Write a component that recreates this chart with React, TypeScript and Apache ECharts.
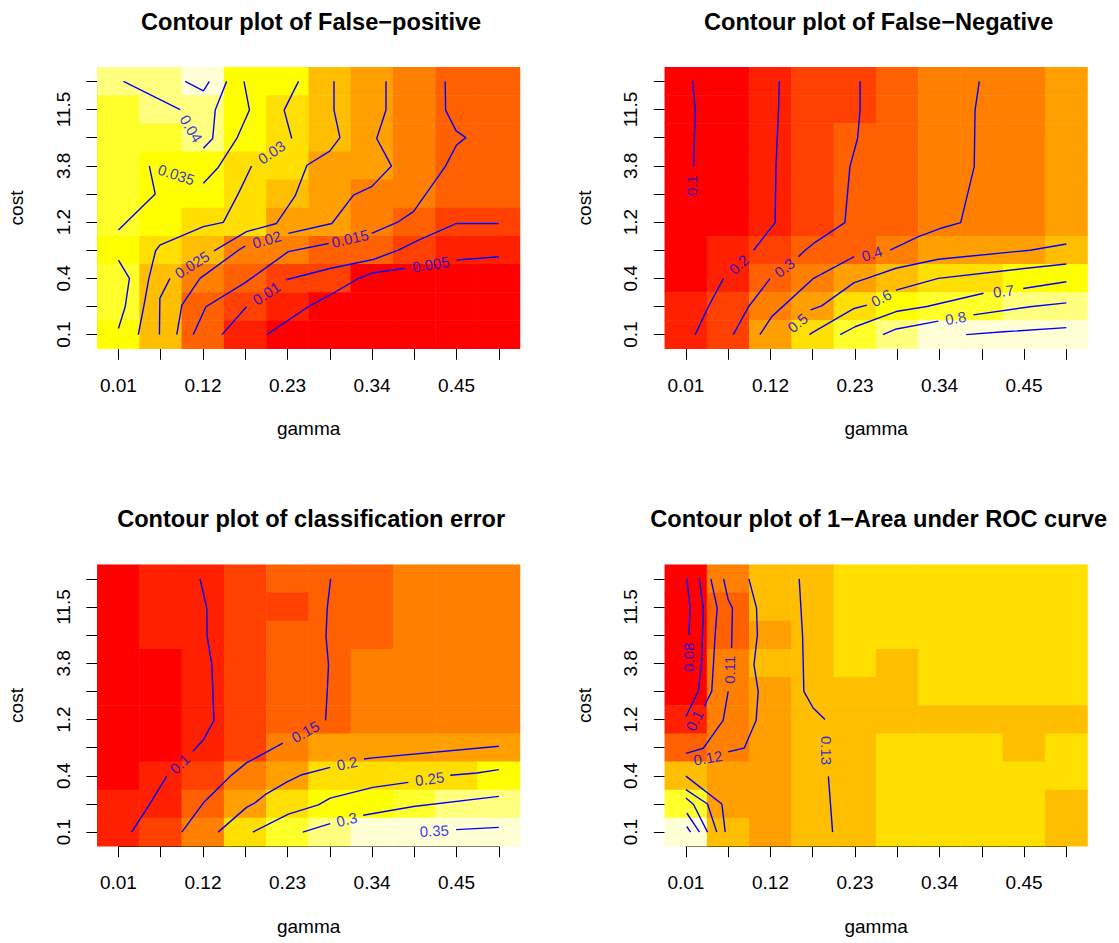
import React, { useEffect, useRef } from "react";
import * as echarts from "echarts";

// ---------- data ----------
const gammaLabels = ["0.01", "0.065", "0.12", "0.175", "0.23", "0.285", "0.34", "0.395", "0.45", "0.505"];
const costLabels = ["0.1", "0.2", "0.4", "0.7", "1.2", "2.1", "3.8", "6.6", "11.5", "20"];

// R heat.colors(12)
const heatColors = ["#FF0000", "#FF2000", "#FF4000", "#FF6000", "#FF8000", "#FF9F00", "#FFBF00", "#FFDF00", "#FFFF00", "#FFFF2A", "#FFFF80", "#FFFFD5"];

// rows listed from the highest cost (top) down to the lowest cost (bottom); columns follow gamma
const falsePositive = [
  [0.0397, 0.0425, 0.047, 0.0346, 0.0325, 0.0255, 0.0205, 0.019, 0.014, 0.014],
  [0.037, 0.0395, 0.0415, 0.035, 0.0295, 0.026, 0.021, 0.0185, 0.0145, 0.014],
  [0.037, 0.0375, 0.041, 0.0335, 0.0305, 0.0265, 0.0215, 0.018, 0.0155, 0.014],
  [0.0365, 0.034, 0.035, 0.031, 0.0285, 0.023, 0.021, 0.0175, 0.0145, 0.014],
  [0.0365, 0.034, 0.0335, 0.029, 0.0257, 0.0225, 0.019, 0.017, 0.0145, 0.014],
  [0.037, 0.033, 0.031, 0.028, 0.0225, 0.021, 0.0175, 0.0135, 0.0105, 0.0105],
  [0.033, 0.029, 0.0272, 0.0186, 0.018, 0.013, 0.013, 0.009, 0.007, 0.0065],
  [0.037, 0.0265, 0.0195, 0.0155, 0.01, 0.009, 0.003, 0.003, 0.003, 0.003],
  [0.0375, 0.025, 0.0155, 0.0102, 0.006, 0.0035, 0.0025, 0.002, 0.002, 0.002],
  [0.0335, 0.0245, 0.0145, 0.007, 0.003, 0.002, 0.0015, 0.0012, 0.001, 0.001],
];

const falseNegative = [
  [0.085, 0.13, 0.18, 0.24, 0.27, 0.32, 0.38, 0.41, 0.41, 0.45],
  [0.07, 0.13, 0.18, 0.24, 0.27, 0.32, 0.38, 0.41, 0.41, 0.45],
  [0.085, 0.13, 0.18, 0.24, 0.29, 0.33, 0.38, 0.41, 0.41, 0.45],
  [0.085, 0.13, 0.18, 0.24, 0.29, 0.33, 0.38, 0.41, 0.41, 0.45],
  [0.09, 0.13, 0.185, 0.245, 0.29, 0.33, 0.385, 0.41, 0.41, 0.45],
  [0.09, 0.135, 0.19, 0.25, 0.3, 0.33, 0.39, 0.42, 0.42, 0.46],
  [0.1, 0.17, 0.26, 0.33, 0.35, 0.42, 0.46, 0.47, 0.48, 0.53],
  [0.12, 0.21, 0.33, 0.41, 0.47, 0.565, 0.64, 0.64, 0.67, 0.68],
  [0.15, 0.25, 0.37, 0.47, 0.6, 0.67, 0.74, 0.76, 0.79, 0.81],
  [0.17, 0.28, 0.45, 0.64, 0.76, 0.83, 0.88, 0.91, 0.92, 0.93],
];

const classError = [
  [0.065, 0.09, 0.102, 0.125, 0.145, 0.15, 0.155, 0.175, 0.175, 0.175],
  [0.065, 0.09, 0.095, 0.12, 0.13, 0.15, 0.155, 0.175, 0.175, 0.175],
  [0.065, 0.09, 0.095, 0.12, 0.145, 0.152, 0.155, 0.175, 0.175, 0.175],
  [0.055, 0.075, 0.095, 0.12, 0.145, 0.152, 0.17, 0.175, 0.175, 0.175],
  [0.06, 0.075, 0.095, 0.12, 0.145, 0.152, 0.17, 0.175, 0.175, 0.175],
  [0.065, 0.075, 0.095, 0.12, 0.145, 0.152, 0.17, 0.175, 0.175, 0.175],
  [0.07, 0.08, 0.105, 0.13, 0.17, 0.19, 0.19, 0.19, 0.195, 0.2],
  [0.075, 0.095, 0.13, 0.175, 0.195, 0.243, 0.245, 0.247, 0.26, 0.27],
  [0.085, 0.105, 0.15, 0.198, 0.242, 0.27, 0.28, 0.295, 0.325, 0.33],
  [0.095, 0.12, 0.18, 0.245, 0.295, 0.33, 0.348, 0.355, 0.365, 0.373],
];

const oneMinusAuc = [
  [0.076, 0.115, 0.128, 0.133, 0.14, 0.14, 0.14, 0.141, 0.141, 0.141],
  [0.075, 0.105, 0.128, 0.133, 0.14, 0.14, 0.141, 0.141, 0.141, 0.141],
  [0.067, 0.105, 0.125, 0.133, 0.14, 0.14, 0.141, 0.141, 0.141, 0.141],
  [0.072, 0.112, 0.128, 0.133, 0.139, 0.135, 0.141, 0.141, 0.141, 0.141],
  [0.074, 0.112, 0.125, 0.132, 0.135, 0.134, 0.14, 0.14, 0.14, 0.14],
  [0.086, 0.113, 0.125, 0.128, 0.134, 0.134, 0.135, 0.135, 0.134, 0.135],
  [0.105, 0.111, 0.125, 0.128, 0.135, 0.14, 0.14, 0.14, 0.135, 0.14],
  [0.136, 0.124, 0.125, 0.128, 0.135, 0.14, 0.14, 0.14, 0.14, 0.14],
  [0.163, 0.124, 0.125, 0.128, 0.135, 0.14, 0.14, 0.14, 0.14, 0.135],
  [0.187, 0.134, 0.126, 0.128, 0.135, 0.14, 0.14, 0.14, 0.14, 0.135],
];

// contour polylines in grid-index units [gamma index, cost index]
type Seg = { level: string; pts: number[][] };
type Lab = { text: string; x: number; y: number; angle: number };

const fpContours: Seg[] = [
  { level: "0.045", pts: [[1.58, 9], [2.01, 8.66], [2.15, 9]] },
  { level: "0.04", pts: [[0.12, 9], [1.46, 8.0]] },
  { level: "0.04", pts: [[2.01, 6.62], [2.23, 6.97], [2.29, 7.98], [2.56, 9]] },
  { level: "0.035", pts: [[0, 3.72], [0.87, 5.0], [0.73, 6.0]] },
  { level: "0.035", pts: [[2.01, 5.38], [2.36, 5.94], [2.8, 6.97], [3.1, 7.98], [2.97, 9]] },
  { level: "0.035", pts: [[0, 2.65], [0.26, 2.0], [0.16, 0.99], [0, 0.22]] },
  { level: "0.03", pts: [[0.47, 0], [0.6, 1], [0.72, 2], [0.88, 2.98], [0.98, 3.18], [2.01, 3.84], [2.48, 3.99], [2.84, 5.02], [3.15, 5.99]] },
  { level: "0.03", pts: [[4.1, 6.97], [3.92, 7.98], [4.26, 9]] },
  { level: "0.025", pts: [[0.97, 0], [0.98, 1.29], [1.22, 2.0]] },
  { level: "0.025", pts: [[2.26, 2.98], [3.03, 3.66], [3.74, 3.95], [4.18, 4.93], [4.46, 6.02], [5.0, 6.52], [5.24, 7.0], [5.1, 7.98], [5.1, 9]] },
  { level: "0.02", pts: [[1.38, 0], [1.5, 1.05], [1.93, 2.0], [2.84, 3.0], [3.0, 3.15]] },
  { level: "0.02", pts: [[4.02, 3.6], [5.05, 3.95], [5.56, 4.96], [5.99, 5.26], [6.46, 5.99], [6.11, 6.97], [6.33, 7.98], [6.33, 9]] },
  { level: "0.015", pts: [[1.77, 0], [2.07, 0.99], [3.0, 1.85], [4.02, 2.95], [4.97, 3.24]] },
  { level: "0.015", pts: [[5.99, 3.6], [6.62, 4.01], [6.98, 4.37], [7.73, 5.97], [8.0, 6.74], [8.22, 7.0], [7.99, 7.24], [7.74, 7.98], [7.73, 9]] },
  { level: "0.01", pts: [[2.45, 0], [3.03, 0.99]] },
  { level: "0.01", pts: [[3.97, 1.95], [5.0, 2.35], [6.03, 2.67], [6.62, 3.0], [7.1, 3.36], [8.0, 3.95], [9, 3.95]] },
  { level: "0.005", pts: [[3.51, 0], [4.5, 1.0], [5.0, 1.4], [5.68, 2.0], [6.03, 2.2], [6.78, 2.36]] },
  { level: "0.005", pts: [[8.0, 2.65], [9, 2.77]] },
];
const fpLabels: Lab[] = [
  { text: "0.04", x: 1.72, y: 7.32, angle: -59 },
  { text: "0.035", x: 1.37, y: 5.69, angle: -18 },
  { text: "0.03", x: 3.62, y: 6.48, angle: 34 },
  { text: "0.025", x: 1.74, y: 2.49, angle: 32 },
  { text: "0.02", x: 3.51, y: 3.38, angle: 16 },
  { text: "0.015", x: 5.48, y: 3.42, angle: 13 },
  { text: "0.01", x: 3.5, y: 1.47, angle: 34 },
  { text: "0.005", x: 7.39, y: 2.5, angle: 9 },
];

const fnContours: Seg[] = [
  { level: "0.1", pts: [[0.16, 9], [0.22, 7.98], [0.18, 5.97]] },
  { level: "0.2", pts: [[0.22, 0], [0.53, 0.99], [0.89, 2.0]] },
  { level: "0.2", pts: [[1.6, 3.0], [2.11, 3.98], [2.13, 5.97], [2.19, 7.98], [2.21, 9]] },
  { level: "0.3", pts: [[1.12, 0], [1.48, 0.99], [1.99, 1.99]] },
  { level: "0.3", pts: [[2.66, 2.77], [2.82, 3.0], [3.02, 3.24], [3.76, 3.98], [3.88, 5.97], [4.06, 6.97], [4.12, 7.98], [4.12, 9]] },
  { level: "0.4", pts: [[1.75, 0], [2.03, 0.64], [3.02, 2.0], [3.98, 2.77]] },
  { level: "0.4", pts: [[4.83, 3.0], [5.5, 3.48], [6.01, 3.77], [6.5, 3.98], [6.82, 5.97], [6.84, 7.98], [6.94, 9]] },
  { level: "0.5", pts: [[2.95, 0.88], [3.21, 1.02], [3.98, 1.85], [4.28, 2.0], [4.97, 2.36], [5.97, 2.68], [8.14, 3.0], [9, 3.22]] },
  { level: "0.6", pts: [[2.92, 0], [3.0, 0.08], [3.98, 0.93], [4.28, 1.05]] },
  { level: "0.6", pts: [[4.97, 1.58], [5.97, 2.0], [8.0, 2.35], [9, 2.51]] },
  { level: "0.7", pts: [[3.65, 0], [4.0, 0.28], [4.97, 0.82], [5.7, 1.0], [7.04, 1.47]] },
  { level: "0.7", pts: [[7.98, 1.64], [9, 1.88]] },
  { level: "0.8", pts: [[4.66, 0], [4.95, 0.19], [5.97, 0.48]] },
  { level: "0.8", pts: [[6.8, 0.7], [8.14, 0.99], [9, 1.13]] },
  { level: "0.9", pts: [[6.63, 0], [7.51, 0.1], [9, 0.25]] },
];
const fnLabels: Lab[] = [
  { text: "0.1", x: 0.13, y: 5.3, angle: 90 },
  { text: "0.2", x: 1.25, y: 2.5, angle: 43 },
  { text: "0.3", x: 2.33, y: 2.38, angle: 38 },
  { text: "0.4", x: 4.4, y: 2.88, angle: 18 },
  { text: "0.5", x: 2.64, y: 0.42, angle: 40 },
  { text: "0.6", x: 4.62, y: 1.31, angle: 27 },
  { text: "0.7", x: 7.51, y: 1.55, angle: 7 },
  { text: "0.8", x: 6.38, y: 0.59, angle: 10 },
];

const ceContours: Seg[] = [
  { level: "0.1", pts: [[1.93, 9], [2.09, 7.96], [2.1, 6.96], [2.21, 5.95], [2.26, 3.97], [2.01, 3.28], [1.76, 2.87]] },
  { level: "0.1", pts: [[1.14, 1.98], [1.02, 1.69], [0.73, 0.97], [0.31, 0]] },
  { level: "0.15", pts: [[5.02, 9], [4.94, 7.96], [4.91, 6.96], [4.97, 5.95], [4.94, 5.0], [4.9, 3.97]] },
  { level: "0.15", pts: [[3.89, 3.16], [3.03, 2.46], [2.64, 1.98], [2.01, 1.04], [1.5, 0]] },
  { level: "0.2", pts: [[9, 3.05], [6.02, 2.64], [5.81, 2.6]] },
  { level: "0.2", pts: [[5.01, 2.3], [4.34, 2.04], [3.98, 1.78], [3.47, 1.33], [3.23, 1.04], [3.03, 0.88], [2.36, 0]] },
  { level: "0.25", pts: [[9, 2.22], [8.48, 2.1], [7.85, 2.02]] },
  { level: "0.25", pts: [[6.86, 1.77], [6.02, 1.59], [5.01, 1.21], [4.73, 0.97], [4.02, 0.64], [3.18, 0]] },
  { level: "0.3", pts: [[9, 1.27], [6.98, 0.91], [5.79, 0.6]] },
  { level: "0.3", pts: [[5.01, 0.3], [4.36, 0]] },
  { level: "0.35", pts: [[9, 0.17], [7.99, 0.09]] },
];
const ceLabels: Lab[] = [
  { text: "0.1", x: 1.45, y: 2.43, angle: 43 },
  { text: "0.15", x: 4.42, y: 3.57, angle: 29 },
  { text: "0.2", x: 5.41, y: 2.45, angle: 12 },
  { text: "0.25", x: 7.36, y: 1.9, angle: 7 },
  { text: "0.3", x: 5.4, y: 0.45, angle: 13 },
  { text: "0.35", x: 7.47, y: 0.05, angle: 3 },
];

const aucContours: Seg[] = [
  { level: "0.08", pts: [[0.02, 9], [0.1, 7.96], [0.07, 7.0]] },
  { level: "0.09", pts: [[0.32, 9], [0.41, 7.96], [0.39, 7.0], [0.37, 5.95], [0.29, 5.0], [0, 4.11]] },
  { level: "0.1", pts: [[0.59, 9], [0.74, 7.96], [0.69, 6.99], [0.65, 5.95], [0.61, 5.0], [0.43, 4.47]] },
  { level: "0.11", pts: [[0.89, 9], [1.0, 8.26], [1.1, 7.96], [1.08, 6.54]] },
  { level: "0.11", pts: [[1.0, 5.0], [0.88, 3.97], [0.41, 2.98], [0, 2.8]] },
  { level: "0.12", pts: [[1.49, 9], [1.67, 7.96], [1.69, 7.01], [1.61, 5.95], [1.71, 5.0], [1.66, 3.97], [1.38, 2.99], [1.0, 2.85]] },
  { level: "0.13", pts: [[2.68, 9], [2.76, 6.96], [2.79, 5.0], [3.01, 4.41], [3.29, 4.0]] },
  { level: "0.13", pts: [[3.37, 1.98], [3.47, 0]] },
  { level: "0.14", pts: [[0, 1.99], [0.85, 1.0], [0.93, 0]] },
  { level: "0.15", pts: [[0, 1.51], [0.51, 1.0], [0.73, 0]] },
  { level: "0.16", pts: [[0, 1.21], [0.18, 0.98], [0.51, 0]] },
  { level: "0.17", pts: [[0.02, 0.68], [0.32, 0]] },
  { level: "0.18", pts: [[0.02, 0.2], [0.11, 0]] },
];
const aucLabels: Lab[] = [
  { text: "0.08", x: 0.06, y: 6.22, angle: 90 },
  { text: "0.1", x: 0.2, y: 3.97, angle: 63 },
  { text: "0.11", x: 1.04, y: 5.77, angle: 90 },
  { text: "0.12", x: 0.52, y: 2.64, angle: 10 },
  { text: "0.13", x: 3.33, y: 2.9, angle: -90 },
];

const panels = [
  { title: "Contour plot of False\u2212positive", z: falsePositive, contours: fpContours, labels: fpLabels },
  { title: "Contour plot of False\u2212Negative", z: falseNegative, contours: fnContours, labels: fnLabels },
  { title: "Contour plot of classification error", z: classError, contours: ceContours, labels: ceLabels },
  { title: "Contour plot of 1\u2212Area under ROC curve", z: oneMinusAuc, contours: aucContours, labels: aucLabels },
];

// ---------- layout ----------
const W = 1119;
const H = 943;
const FONT = '"Liberation Sans", Arial, Helvetica, sans-serif';
const PLOT_W = 422.7;
const PLOT_H = 281.4;
const ORIGIN_X = [97.3, 664.8];
const ORIGIN_Y = [67.3, 564.8];
const CELL_W = PLOT_W / 10;
const CELL_H = PLOT_H / 10;

function makePieces(z: number[][]) {
  const flat = z.flat();
  const lo = Math.min(...flat);
  const hi = Math.max(...flat);
  const w = (hi - lo) / heatColors.length;
  return heatColors.map((c, k) => ({
    gte: k === 0 ? lo - 1 : lo + k * w,
    lt: k === heatColors.length - 1 ? hi + 1 : lo + (k + 1) * w,
    color: c,
  }));
}

function buildOption() {
  const grid: any[] = [];
  const xAxis: any[] = [];
  const yAxis: any[] = [];
  const series: any[] = [];
  const visualMap: any[] = [];
  const elements: any[] = [];

  panels.forEach((p, k) => {
    const ox = ORIGIN_X[k % 2];
    const oy = ORIGIN_Y[Math.floor(k / 2)];
    const gA = grid.length;
    grid.push({ left: ox, top: oy, width: PLOT_W, height: PLOT_H });
    grid.push({ left: ox + CELL_W / 2, top: oy + CELL_H / 2, width: 9 * CELL_W, height: 9 * CELL_H });

    xAxis.push({ type: "category", gridIndex: gA, data: gammaLabels, show: false });
    yAxis.push({ type: "category", gridIndex: gA, data: costLabels, show: false });

    const axisCommon = {
      type: "value",
      gridIndex: gA + 1,
      min: 0,
      max: 9,
      interval: 1,
      splitLine: { show: false },
      axisLine: { show: true, onZero: false, lineStyle: { color: "#000", width: 1 } },
      axisTick: { show: true, length: 11, lineStyle: { color: "#000", width: 1 } },
    };
    xAxis.push({
      ...axisCommon,
      position: "bottom",
      offset: CELL_H / 2,
      axisLabel: {
        margin: 27,
        color: "#000",
        fontSize: 19,
        fontFamily: FONT,
        formatter: (v: number) => (Math.round(v) % 2 === 0 ? gammaLabels[Math.round(v)] : ""),
      },
    });
    yAxis.push({
      ...axisCommon,
      position: "left",
      offset: CELL_W / 2,
      axisLabel: {
        rotate: 90,
        margin: 24.5,
        color: "#000",
        fontSize: 19,
        fontFamily: FONT,
        formatter: (v: number) => (Math.round(v) % 2 === 0 ? costLabels[Math.round(v)] : ""),
      },
    });

    const heatData: number[][] = [];
    p.z.forEach((row, r) => {
      const j = p.z.length - 1 - r;
      row.forEach((v, i) => heatData.push([i, j, v]));
    });
    const hIdx = series.length;
    series.push({
      type: "heatmap",
      xAxisIndex: gA,
      yAxisIndex: gA,
      data: heatData,
      silent: true,
      itemStyle: { borderWidth: 0 },
      emphasis: { disabled: true },
      progressive: 0,
      z: 1,
    });
    visualMap.push({
      type: "piecewise",
      show: false,
      seriesIndex: hIdx,
      dimension: 2,
      pieces: makePieces(p.z),
    });

    p.contours.forEach((c) => {
      series.push({
        type: "line",
        name: c.level,
        xAxisIndex: gA + 1,
        yAxisIndex: gA + 1,
        data: c.pts,
        symbol: "none",
        clip: false,
        silent: true,
        lineStyle: { color: "#0000FF", width: 1.4 },
        z: 3,
      });
    });

    series.push({
      type: "scatter",
      xAxisIndex: gA + 1,
      yAxisIndex: gA + 1,
      symbolSize: 1,
      silent: true,
      clip: false,
      itemStyle: { color: "rgba(0,0,0,0)" },
      z: 4,
      label: {
        show: true,
        position: "inside",
        formatter: "{b}",
        color: "#0000FF",
        fontSize: 15,
        fontFamily: FONT,
      },
      data: p.labels.map((l) => ({ name: l.text, value: [l.x, l.y], label: { rotate: l.angle } })),
    });

    const cx = ox + PLOT_W / 2;
    const cy = oy + PLOT_H / 2;
    elements.push({
      type: "text",
      x: cx + 2.5,
      y: oy - 45.7,
      style: {
        text: p.title,
        fill: "#000",
        fontSize: 23.6,
        fontWeight: "bold",
        fontFamily: FONT,
        align: "center",
        verticalAlign: "middle",
        textAlign: "center",
        textVerticalAlign: "middle",
      },
    });
    elements.push({
      type: "text",
      x: cx,
      y: oy + PLOT_H + 80,
      style: {
        text: "gamma",
        fill: "#000",
        fontSize: 19,
        fontFamily: FONT,
        align: "center",
        verticalAlign: "middle",
        textAlign: "center",
        textVerticalAlign: "middle",
      },
    });
    elements.push({
      type: "text",
      x: ox - 80.8,
      y: cy,
      rotation: Math.PI / 2,
      style: {
        text: "cost",
        fill: "#000",
        fontSize: 19,
        fontFamily: FONT,
        align: "center",
        verticalAlign: "middle",
        textAlign: "center",
        textVerticalAlign: "middle",
      },
    });
  });

  return {
    animation: false,
    backgroundColor: "#FFFFFF",
    textStyle: { fontFamily: FONT },
    grid,
    xAxis,
    yAxis,
    visualMap,
    series,
    graphic: { elements },
  };
}

export default function App() {
  const ref = useRef<HTMLDivElement>(null);
  useEffect(() => {
    if (!ref.current) return;
    const chart = echarts.init(ref.current, undefined, { renderer: "svg" });
    chart.setOption(buildOption() as any);
    return () => chart.dispose();
  }, []);
  return (
    <div
      ref={ref}
      style={{ position: "fixed", left: 0, top: 0, width: W, height: H, background: "#fff" }}
    />
  );
}
